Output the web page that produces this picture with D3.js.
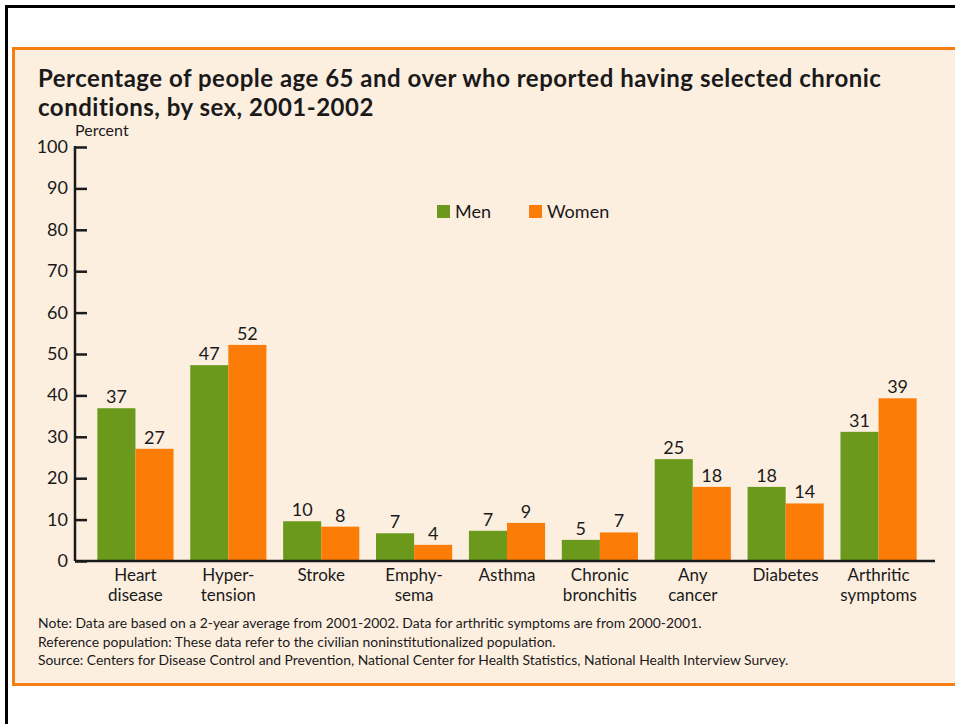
<!DOCTYPE html>
<html>
<head>
<meta charset="utf-8">
<script src="https://cdn.jsdelivr.net/npm/d3@7"></script>
<style>
  body { margin: 0; background: #fff; }
  text { font-family: Lato, "Open Sans", sans-serif; fill: #1a1a1a; }
</style>
</head>
<body>
<div id="chart"></div>
<script>
// chart data
var categories = [["Heart", "disease"], ["Hyper-", "tension"], ["Stroke"], ["Emphy-", "sema"], ["Asthma"],
                  ["Chronic", "bronchitis"], ["Any", "cancer"], ["Diabetes"], ["Arthritic", "symptoms"]];
var men   = [36.9, 47.3, 9.6, 6.7, 7.3, 5.1, 24.6, 17.9, 31.2];
var women = [27.1, 52.2, 8.3, 3.9, 9.2, 6.9, 17.9, 13.9, 39.3];
var series = ["Men", "Women"];
var yTicks = [0, 10, 20, 30, 40, 50, 60, 70, 80, 90, 100];
var titleLines = ["Percentage of people age 65 and over who reported having selected chronic",
                  "conditions, by sex, 2001-2002"];
var notes = ["Note:  Data are based on a 2-year average from 2001-2002. Data for arthritic symptoms are from 2000-2001.",
             "Reference population: These data refer to the civilian noninstitutionalized population.",
             "Source:  Centers for Disease Control and Prevention, National Center for Health Statistics, National Health Interview Survey."];

var W = 955, H = 724;
var green = "#6a991b", orange = "#fb7d07";

var svg = d3.select("#chart")
    .append("svg")
    .attr("width", W)
    .attr("height", H);

// outer frame (black) and the cream panel
svg.append("path")
    .attr("d", "M6.5,724 V6.5 H955")
    .style("fill", "none")
    .style("stroke", "#000")
    .style("stroke-width", 3);

svg.append("rect")
    .attr("x", 13.5).attr("y", 48.5)
    .attr("width", 960).attr("height", 636)
    .style("fill", "#fdefe0")
    .style("stroke", "#f57f12")
    .style("stroke-width", 3);

svg.selectAll(".title")
    .data(titleLines)
    .enter().append("text")
    .attr("x", 38)
    .attr("y", function(d, i){ return 87 + i * 29; })
    .style("font-size", "24px")
    .style("font-weight", "bold")
    .style("letter-spacing", "0.5px")
    .text(function(d){ return d; });

var x = d3.scaleBand()
    .domain(d3.range(categories.length))
    .range([89, 925])
    .paddingInner(0.18)
    .paddingOuter(0.09);

var xs = d3.scaleBand()
    .domain(series)
    .range([0, x.bandwidth()]);

var y = d3.scaleLinear()
    .domain([0, 100])
    .range([561, 147]);

var g = svg.append("g");

// y axis, ticks drawn inward
var yAxis = g.append("g")
    .attr("transform", "translate(75,0)")
    .call(d3.axisRight(y).tickValues(yTicks).tickSize(12).tickFormat(""));
yAxis.select(".domain").remove();
yAxis.selectAll("line").style("stroke", "#1a1a1a").style("stroke-width", 2.5);

g.append("line")
    .attr("x1", 75).attr("x2", 75)
    .attr("y1", y(100) - 1).attr("y2", y(0))
    .style("stroke", "#1a1a1a").style("stroke-width", 2.5);

g.selectAll(".ylab")
    .data(yTicks)
    .enter().append("text")
    .attr("x", 68)
    .attr("y", function(d){ return y(d) + 6; })
    .attr("text-anchor", "end")
    .style("font-size", "18px")
    .text(function(d){ return d; });

g.append("text")
    .attr("x", 75).attr("y", 136)
    .style("font-size", "16px")
    .text("Percent");

var groups = g.selectAll(".grp")
    .data(categories)
    .enter().append("g")
    .attr("transform", function(d, i){ return "translate(" + x(i) + ",0)"; });

groups.each(function(c, i){
    var vals = [men[i], women[i]];
    var sel = d3.select(this);
    sel.selectAll("rect")
        .data(vals)
        .enter().append("rect")
        .attr("x", function(d, j){ return xs(series[j]); })
        .attr("y", function(d){ return y(d); })
        .attr("width", xs.bandwidth())
        .attr("height", function(d){ return y(0) - y(d); })
        .style("fill", function(d, j){ return j == 0 ? green : orange; });
    sel.selectAll(".val")
        .data(vals)
        .enter().append("text")
        .attr("x", function(d, j){ return xs(series[j]) + xs.bandwidth() / 2; })
        .attr("y", function(d){ return y(d) - 5; })
        .attr("text-anchor", "middle")
        .style("font-size", "18px")
        .text(function(d){ return Math.round(d); });
    // category label, one text with a tspan per line
    var lab = sel.append("text")
        .attr("y", 580.5)
        .attr("text-anchor", "middle")
        .style("font-size", "17px");
    lab.selectAll("tspan")
        .data(c)
        .enter().append("tspan")
        .attr("x", x.bandwidth() / 2)
        .attr("dy", function(d, k){ return k == 0 ? 0 : 20.6; })
        .text(function(d){ return d; });
});

// x axis baseline
g.append("line")
    .attr("x1", 75).attr("x2", 935)
    .attr("y1", y(0)).attr("y2", y(0))
    .style("stroke", "#1a1a1a").style("stroke-width", 2.5);

// legend
var legX = [437, 529];
var leg = g.selectAll(".leg")
    .data(series)
    .enter().append("g")
    .attr("transform", function(d, i){ return "translate(" + legX[i] + ",205)"; });
leg.append("rect")
    .attr("width", 13).attr("height", 13)
    .style("fill", function(d, i){ return i == 0 ? green : orange; });
leg.append("text")
    .attr("x", 18).attr("y", 13)
    .style("font-size", "18px")
    .text(function(d){ return d; });

svg.selectAll(".note")
    .data(notes)
    .enter().append("text")
    .attr("x", 38)
    .attr("y", function(d, i){ return 628 + i * 18.5; })
    .style("font-size", "13.9px")
    .text(function(d){ return d; });
</script>
</body>
</html>
